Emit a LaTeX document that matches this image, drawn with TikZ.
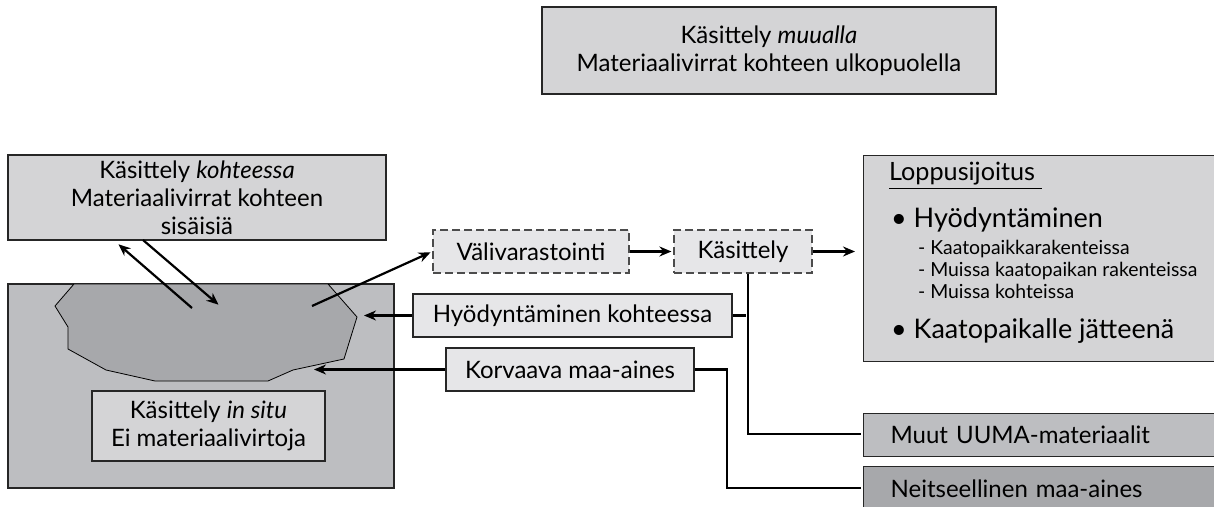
\documentclass[tikz,border=0pt]{standalone}
\usepackage{fontspec}
\setmainfont{Lato}
\usepackage{tikz}
\usetikzlibrary{arrows,arrows.meta}
\usetikzlibrary{shapes}
\definecolor{lightbox}{HTML}{D4D4D6}
\definecolor{palebox}{HTML}{E6E6E8}
\definecolor{midbox}{HTML}{BDBEC1}
\definecolor{darkbox}{HTML}{A7A8AB}
\tikzstyle{bt} = [rectangle, draw=black!85, fill=lightbox, line width=0.6pt,
    align=center, inner sep=0pt, font=\fontsize{12}{14}\selectfont]
\tikzstyle{pt} = [bt, fill=palebox]
\tikzstyle{dt} = [pt, draw=black!70, dash pattern=on 4pt off 2pt]
\tikzstyle{lt} = [bt, anchor=north west, align=left, text width=160pt, inner xsep=13.5pt]
\tikzstyle{small} = [anchor=base west, inner sep=0pt, font=\fontsize{9.7}{11}\selectfont]
\tikzstyle{big} = [anchor=base west, inner sep=0pt, font=\fontsize{13.5}{15}\selectfont]

\begin{document}
\begin{tikzpicture}[->,>={Stealth[length=6pt,width=5pt]},shorten >=1pt,line width=1.1pt,
                    x=0.5pt,y=-0.5pt]
  \useasboundingbox (0,0) rectangle (1214,507);

  \node[bt, minimum width=227pt, minimum height=43.5pt] (0) at (769,50.5)
       {K\"asittely \textit{muualla}\\Materiaalivirrat kohteen ulkopuolella};
  \node[bt, minimum width=189pt, minimum height=42.5pt] (1) at (197,197.5)
       {K\"asittely \textit{kohteessa}\\Materiaalivirrat kohteen\\sis\"aisi\"a};

  % kohde ja pilaantunut alue
  \node[bt, fill=midbox, minimum width=193pt, minimum height=102pt] (site) at (201,386) {};
  \draw[-, line width=0.4pt, fill=darkbox] (74,284) -- (328,284) -- (357,317) -- (344,359)
       -- (293,370) -- (268,381) -- (155,381) -- (106,370) -- (68,349) -- (68,327)
       -- (55,306) -- cycle;
  \node[bt, minimum width=116.5pt, minimum height=35pt] (insitu) at (208.5,426)
       {K\"asittely \textit{in situ}\\Ei materiaalivirtoja};

  \node[dt, minimum width=98pt, minimum height=21.5pt] (2) at (531,251.5) {V\"alivarastointi};
  \node[dt, minimum width=69pt, minimum height=21.5pt] (3) at (743,251.5) {K\"asittely};
  \node[pt, minimum width=159.5pt, minimum height=21.5pt] (4) at (572.5,315.5) {Hy\"odynt\"aminen kohteessa};
  \node[pt, minimum width=124pt, minimum height=21.5pt] (5) at (570,369.5) {Korvaava maa-aines};

  % loppusijoitus
  \node[bt, anchor=north west, minimum width=180pt, minimum height=103pt] (6) at (863,155) {};
  \node[big, font=\fontsize{12.6}{14}\selectfont] (6a) at (888,181) {\underline{Loppusijoitus\ }};
  \node[big] (6b) at (890,228) {• Hy\"odynt\"aminen};
  \node[small] (6c) at (917,255) {- Kaatopaikkarakenteissa};
  \node[small] (6d) at (917,277) {- Muissa kaatopaikan rakenteissa};
  \node[small] (6e) at (917,299) {- Muissa kohteissa};
  \node[big] (6f) at (890,338) {• Kaatopaikalle j\"atteen\"a};

  \node[lt, fill=midbox, minimum height=21.5pt] (7) at (863,413) {Muut UUMA-materiaalit};
  \node[lt, fill=darkbox, minimum height=22pt] (8) at (863,466) {Neitseellinen maa-aines};

  \coordinate (k1) at (192,308);
  \coordinate (k2) at (117,243);
  \coordinate (k3) at (143,240);
  \coordinate (k4) at (220,306);
  \coordinate (k5) at (312,306);
  \coordinate (k6) at (362,315.5);
  \coordinate (k7) at (312,369.5);

  \path (k1) edge (k2)
        (k3) edge (k4)
        (k5) edge (2.west)
        (2) edge (3)
        (3.east) edge ([xshift=-3pt]6.west |- 3.east)
        (4) edge (k6)
        (5) edge (k7);

  \draw[-] (3.south -| 748,0) -- (748,434) -- (7.west |- 748,434);
  \draw[-] (4.east) -- (748,315.5);
  \draw[-] (5.east) -- (727,369.5) -- (727,488) -- (8.west |- 727,488);
\end{tikzpicture}
\end{document}
